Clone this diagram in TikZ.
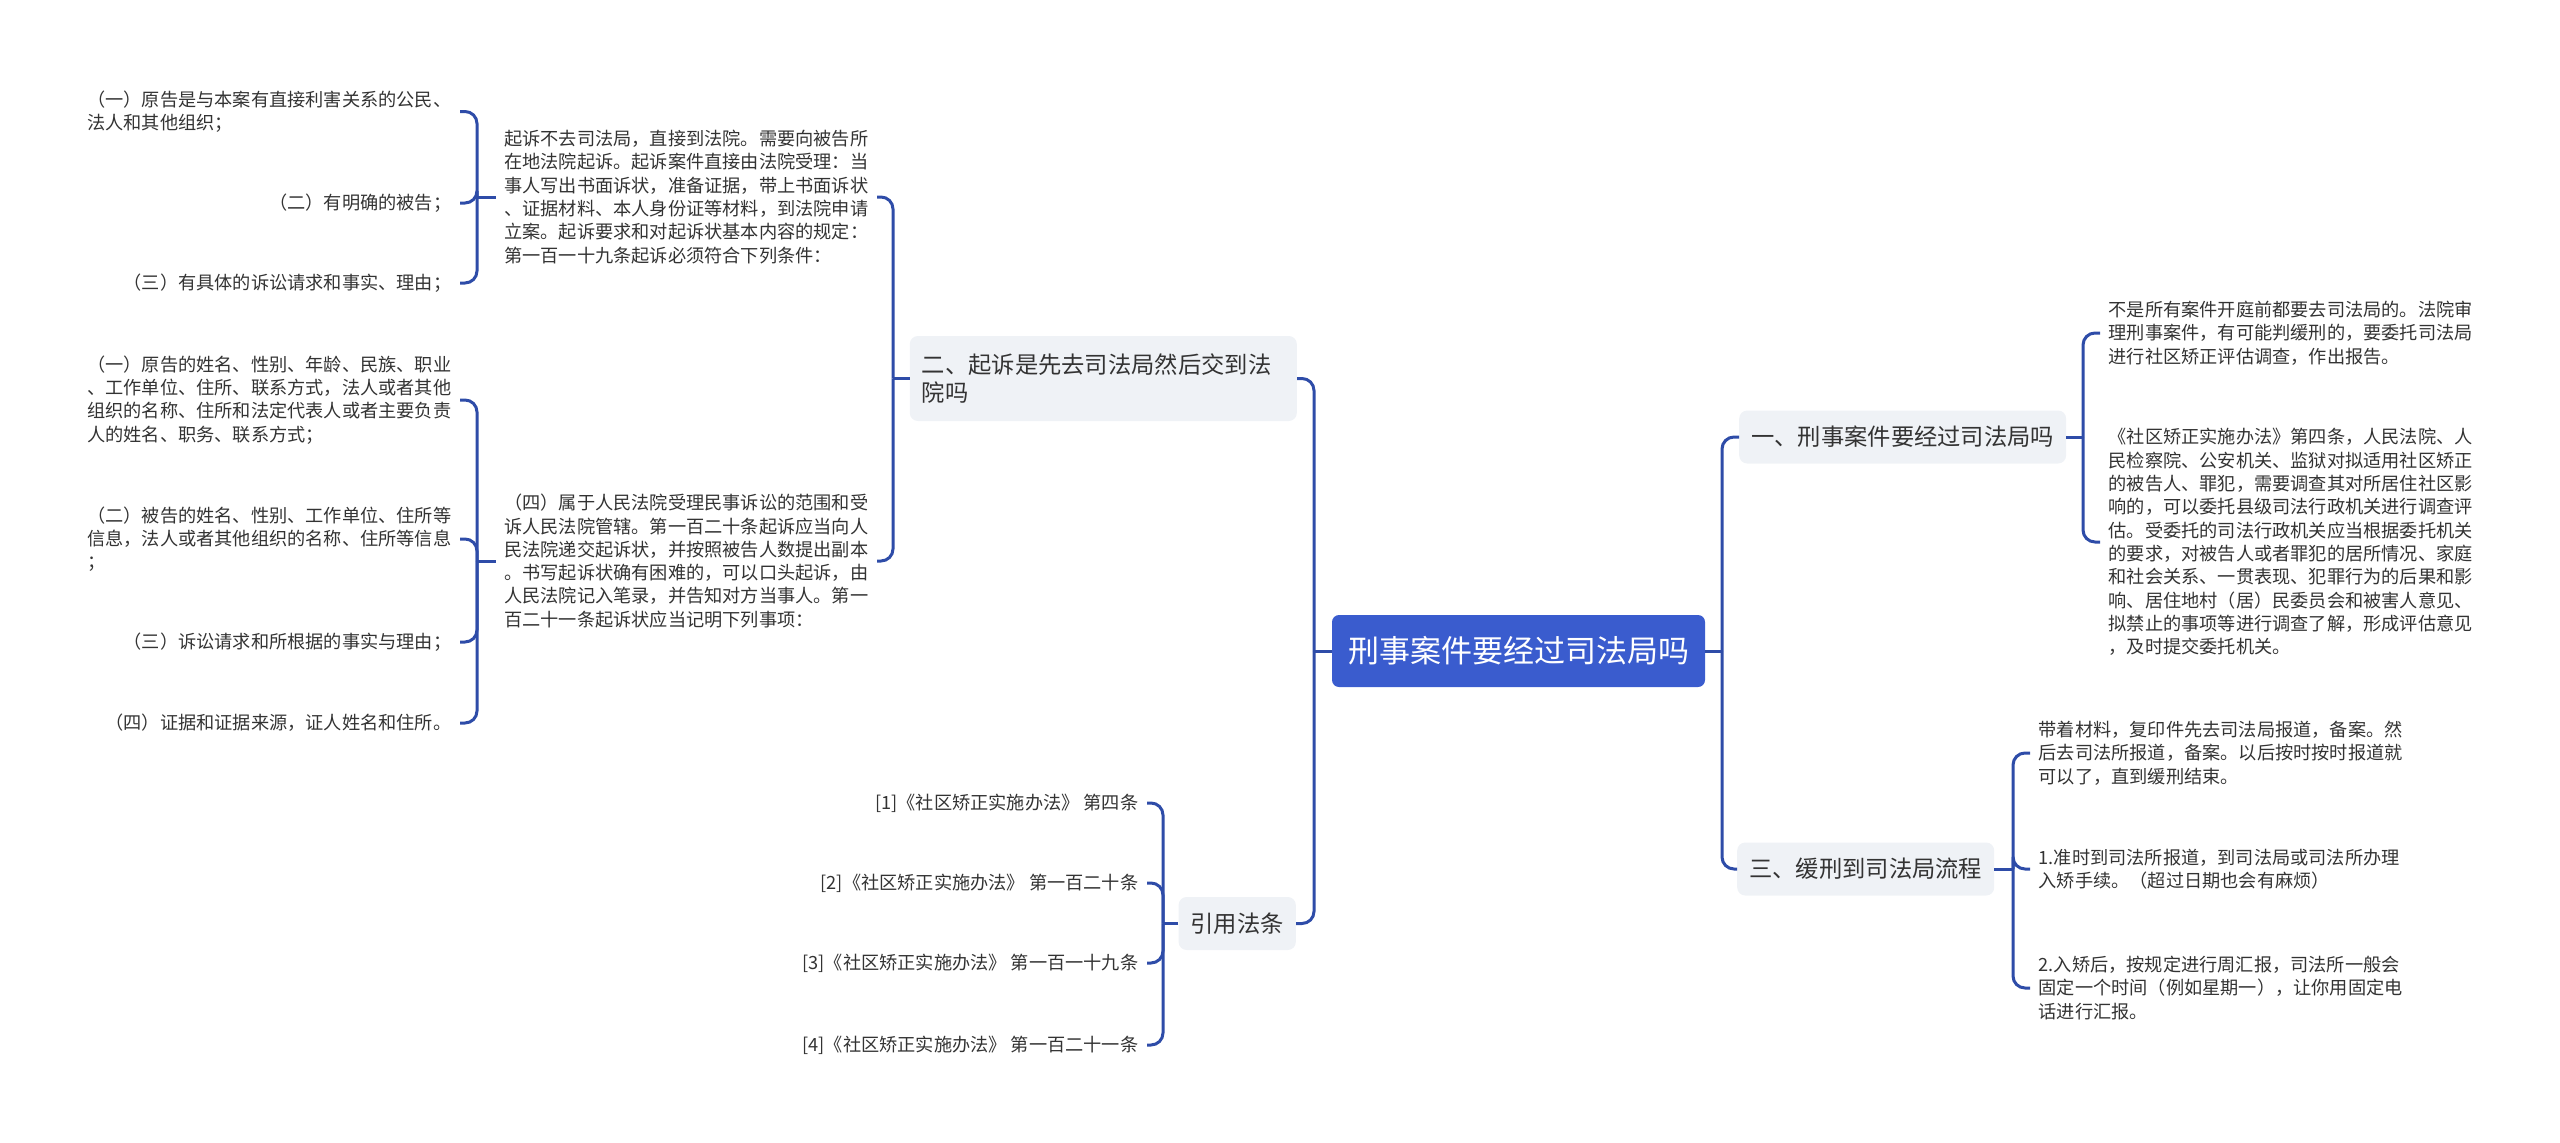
\documentclass[tikz,border=0pt]{standalone}
\usepackage{fontspec}
\setmainfont{Noto Sans CJK SC}
\usepackage{tikz}
\usetikzlibrary{positioning}
\definecolor{linkblue}{RGB}{46,76,168}
\definecolor{rootblue}{RGB}{58,92,206}
\definecolor{topicgray}{RGB}{239,242,246}
\definecolor{textgray}{RGB}{51,51,51}

\begin{document}
\begin{tikzpicture}[
    x=1pt, y=-1pt,
    rootbox/.style={rectangle, fill=rootblue, text=white, rounded corners=7pt, inner xsep=16pt, minimum height=72pt, font=\fontsize{31pt}{36pt}\selectfont},
    topic/.style={rectangle, fill=topicgray, text=textgray, rounded corners=8pt, inner xsep=12pt, minimum height=53pt, font=\fontsize{23.3pt}{28pt}\selectfont},
    leaf/.style={text=textgray, align=left, inner xsep=8.5pt, inner ysep=0pt, font=\fontsize{18.2pt}{23.3pt}\selectfont},
    link/.style={draw=linkblue, line width=3pt, rounded corners=12pt},
]
    \useasboundingbox (0,0) rectangle (2560,1143);

    \node[rootbox] (root) at (1518.5,651) {刑事案件要经过司法局吗};

    \node[topic, anchor=west] (crim) at (1739,437) {一、刑事案件要经过司法局吗};
    \node[topic, anchor=west] (prob) at (1737,869) {三、缓刑到司法局流程};
    \node[topic, anchor=east, align=left, text width=363pt, minimum height=85pt] (sue) at (1297,378.5) {二、起诉是先去司法局然后交到法\\院吗};
    \node[topic, anchor=east] (cite) at (1296,923.5) {引用法条};

    \coordinate (jl) at (1314,651);
    \coordinate (jr) at (1722,651);
    \draw[link] (root.west) -- (jl);
    \draw[link] (root.east) -- (jr);
    \draw[link] (jl) |- (sue.east);
    \draw[link] (jl) |- (cite.east);
    \draw[link] (jr) |- (crim.west);
    \draw[link] (jr) |- (prob.west);

    \node[leaf, anchor=east] (filing) at (877,197) {起诉不去司法局，直接到法院。需要向被告所\\在地法院起诉。起诉案件直接由法院受理：当\\事人写出书面诉状，准备证据，带上书面诉状\\、证据材料、本人身份证等材料，到法院申请\\立案。起诉要求和对起诉状基本内容的规定：\\第一百一十九条起诉必须符合下列条件：};
    \node[leaf, anchor=east] (scope) at (877,561) {（四）属于人民法院受理民事诉讼的范围和受\\诉人民法院管辖。第一百二十条起诉应当向人\\民法院递交起诉状，并按照被告人数提出副本\\。书写起诉状确有困难的，可以口头起诉，由\\人民法院记入笔录，并告知对方当事人。第一\\百二十一条起诉状应当记明下列事项：};
    \coordinate (js) at (893,378.5);
    \draw[link] (sue.west) -- (js);
    \draw[link] (js) |- (filing.east);
    \draw[link] (js) |- (scope.east);

    \node[leaf, anchor=east] (plaintiff) at (460,111.5) {（一）原告是与本案有直接利害关系的公民、\\法人和其他组织；};
    \node[leaf, anchor=east] (defendant) at (460,203) {（二）有明确的被告；};
    \node[leaf, anchor=east] (claim) at (460,283) {（三）有具体的诉讼请求和事实、理由；};
    \coordinate (jf) at (477,197);
    \draw[link] (filing.west) -- (jf);
    \draw[link] (jf) |- (plaintiff.east);
    \draw[link] (jf) |- (defendant.east);
    \draw[link] (jf) |- (claim.east);

    \node[leaf, anchor=east] (itemone) at (460,400) {（一）原告的姓名、性别、年龄、民族、职业\\、工作单位、住所、联系方式，法人或者其他\\组织的名称、住所和法定代表人或者主要负责\\人的姓名、职务、联系方式；};
    \node[leaf, anchor=east] (itemtwo) at (460,539) {（二）被告的姓名、性别、工作单位、住所等\\信息，法人或者其他组织的名称、住所等信息\\；};
    \node[leaf, anchor=east] (itemthree) at (460,642) {（三）诉讼请求和所根据的事实与理由；};
    \node[leaf, anchor=east] (itemfour) at (460,723) {（四）证据和证据来源，证人姓名和住所。};
    \coordinate (jp) at (477,561);
    \draw[link] (scope.west) -- (jp);
    \draw[link] (jp) |- (itemone.east);
    \draw[link] (jp) |- (itemtwo.east);
    \draw[link] (jp) |- (itemthree.east);
    \draw[link] (jp) |- (itemfour.east);

    \node[leaf, anchor=east] (lawone) at (1147,803) {[1]《社区矫正实施办法》 第四条};
    \node[leaf, anchor=east] (lawtwo) at (1147,883) {[2]《社区矫正实施办法》 第一百二十条};
    \node[leaf, anchor=east] (lawthree) at (1147,963) {[3]《社区矫正实施办法》 第一百一十九条};
    \node[leaf, anchor=east] (lawfour) at (1147,1045) {[4]《社区矫正实施办法》 第一百二十一条};
    \coordinate (jc) at (1163,923.5);
    \draw[link] (cite.west) -- (jc);
    \draw[link] (jc) |- (lawone.east);
    \draw[link] (jc) |- (lawtwo.east);
    \draw[link] (jc) |- (lawthree.east);
    \draw[link] (jc) |- (lawfour.east);

    \node[leaf, anchor=west] (notall) at (2100,333) {不是所有案件开庭前都要去司法局的。法院审\\理刑事案件，有可能判缓刑的，要委托司法局\\进行社区矫正评估调查，作出报告。};
    \node[leaf, anchor=west] (article) at (2100,542) {《社区矫正实施办法》第四条，人民法院、人\\民检察院、公安机关、监狱对拟适用社区矫正\\的被告人、罪犯，需要调查其对所居住社区影\\响的，可以委托县级司法行政机关进行调查评\\估。受委托的司法行政机关应当根据委托机关\\的要求，对被告人或者罪犯的居所情况、家庭\\和社会关系、一贯表现、犯罪行为的后果和影\\响、居住地村（居）民委员会和被害人意见、\\拟禁止的事项等进行调查了解，形成评估意见\\，及时提交委托机关。};
    \coordinate (jk) at (2083,437);
    \draw[link] (crim.east) -- (jk);
    \draw[link] (jk) |- (notall.west);
    \draw[link] (jk) |- (article.west);

    \node[leaf, anchor=west] (report) at (2030,753) {带着材料，复印件先去司法局报道，备案。然\\后去司法所报道，备案。以后按时按时报道就\\可以了，直到缓刑结束。};
    \node[leaf, anchor=west] (stepone) at (2030,869) {1.准时到司法所报道，到司法局或司法所办理\\入矫手续。（超过日期也会有麻烦）};
    \node[leaf, anchor=west] (steptwo) at (2030,988) {2.入矫后，按规定进行周汇报，司法所一般会\\固定一个时间（例如星期一），让你用固定电\\话进行汇报。};
    \coordinate (jq) at (2013,869);
    \draw[link] (prob.east) -- (jq);
    \draw[link] (jq) |- (report.west);
    \draw[link] (jq) |- (stepone.west);
    \draw[link] (jq) |- (steptwo.west);
\end{tikzpicture}
\end{document}
